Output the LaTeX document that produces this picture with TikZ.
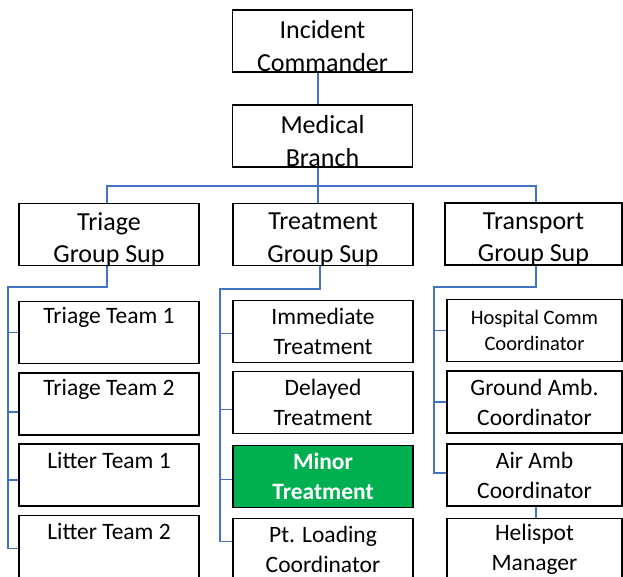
\documentclass[tikz,border=0pt]{standalone}
\usepackage{fontspec}
\setmainfont{Carlito}
\definecolor{conn}{HTML}{4472C4}
\definecolor{minorgreen}{HTML}{00B050}
\begin{document}
\begin{tikzpicture}[x=1pt,y=-1pt,
  box/.style={draw=black,line width=1.8pt,rectangle,inner sep=0pt,minimum height=62pt},
  wA/.style={minimum width=180pt},
  wC/.style={minimum width=177pt},
  wD/.style={minimum width=175pt},
  big/.style={inner sep=0pt,align=center,font=\fontsize{26}{32.5}\selectfont},
  mid/.style={inner sep=0pt,align=center,font=\fontsize{23.5}{30}\selectfont},
  sml/.style={inner sep=0pt,align=center,font=\fontsize{20.5}{26}\selectfont},
  link/.style={draw=conn,line width=1.4pt}]
\useasboundingbox (0,0) rectangle (623,576);
% top
\node[box,wA] (ic) at (322.5,41) {};
\node[big] (ict) at ([yshift=-5pt]ic.center) {Incident\\Commander};
\node[box,wA] (mb) at (322.5,136) {};
\node[big] (mbt) at ([yshift=-5pt]mb.center) {Medical\\Branch};
% groups
\node[box,wA] (tg) at (109,234.5) {};
\node[big] (tgt) at ([yshift=-5pt]tg.center) {Triage\\Group Sup};
\node[box,wA] (trg) at (323,234.5) {};
\node[big] (trgt) at ([yshift=-5pt]trg.center) {Treatment\\Group Sup};
\node[box,wC] (tpg) at (533.5,234) {};
\node[big] (tpgt) at ([yshift=-5pt]tpg.center) {Transport\\Group Sup};
% triage children
\node[box,wA] (a1) at (109,332.5) {};
\node[mid] (a1t) at ([yshift=15pt]a1.center) {Triage Team 1};
\node[box,wA] (a2) at (109,404) {};
\node[mid] (a2t) at ([yshift=15pt]a2.center) {Triage Team 2};
\node[box,wA] (a3) at (109,475) {};
\node[mid] (a3t) at ([yshift=15pt]a3.center) {Litter Team 1};
\node[box,wA] (a4) at (109,546.5) {};
\node[mid] (a4t) at ([yshift=15pt]a4.center) {Litter Team 2};
% treatment children
\node[box,wA] (b1) at (323,331.5) {};
\node[mid] (b1t) at (b1.center) {Immediate\\Treatment};
\node[box,wA] (b2) at (323,402.5) {};
\node[mid] (b2t) at (b2.center) {Delayed\\Treatment};
\node[box,wA,fill=minorgreen] (b3) at (323,476.5) {};
\node[mid,text=white,font=\fontsize{23.5}{30}\selectfont\bfseries] (b3t) at (b3.center) {Minor\\Treatment};
\node[box,wA] (b4) at (323,549.5) {};
\node[mid] (b4t) at (b4.center) {Pt. Loading\\Coordinator};
% transport children
\node[box,wD] (c1) at (534.5,330.5) {};
\node[sml] (c1t) at (c1.center) {Hospital Comm\\Coordinator};
\node[box,wD] (c2) at (534.5,402) {};
\node[mid] (c2t) at (c2.center) {Ground Amb.\\Coordinator};
\node[box,wD] (c3) at (534.5,475) {};
\node[mid] (c3t) at (c3.center) {Air Amb\\Coordinator};
\node[box,wD] (c4) at (534.5,549.5) {};
\node[mid] (c4t) at (c4.center) {Helispot\\Manager};
% connectors
\coordinate (bus) at (318,186);
\draw[link] ([xshift=-4.5pt]ic.south) -- ([xshift=-4.5pt]mb.north);
\draw[link] ([xshift=-4.5pt]mb.south) -- (bus);
\draw[link] ([xshift=-2pt]tg.north) |- (bus);
\draw[link] ([xshift=-5pt]trg.north) |- (bus);
\draw[link] ([xshift=2.5pt]tpg.north) |- (bus);
% triage spine
\coordinate (sa) at (8,287);
\draw[link] ([xshift=-2pt]tg.south) |- (sa) |- ([yshift=-2pt]a4.west);
\draw[link] (sa) |- (a1.west);
\draw[link] (sa) |- ([yshift=-8pt]a2.west);
\draw[link] (sa) |- ([yshift=-5pt]a3.west);
% treatment spine
\coordinate (sb) at (220,289);
\draw[link] ([xshift=-3pt]trg.south) |- (sb) |- ([yshift=8pt]b4.west);
\draw[link] (sb) |- ([yshift=-2pt]b1.west);
\draw[link] (sb) |- ([yshift=-7pt]b2.west);
\draw[link] (sb) |- ([yshift=-3pt]b3.west);
% transport spine
\coordinate (sc) at (434,287);
\draw[link] ([xshift=2.5pt]tpg.south) |- (sc) |- ([yshift=2pt]c3.west);
\draw[link] (sc) |- (c1.west);
\draw[link] (sc) |- (c2.west);
\draw[link] ([xshift=1.5pt]c3.south) -- ([xshift=1.5pt]c4.north);
\end{tikzpicture}
\end{document}
